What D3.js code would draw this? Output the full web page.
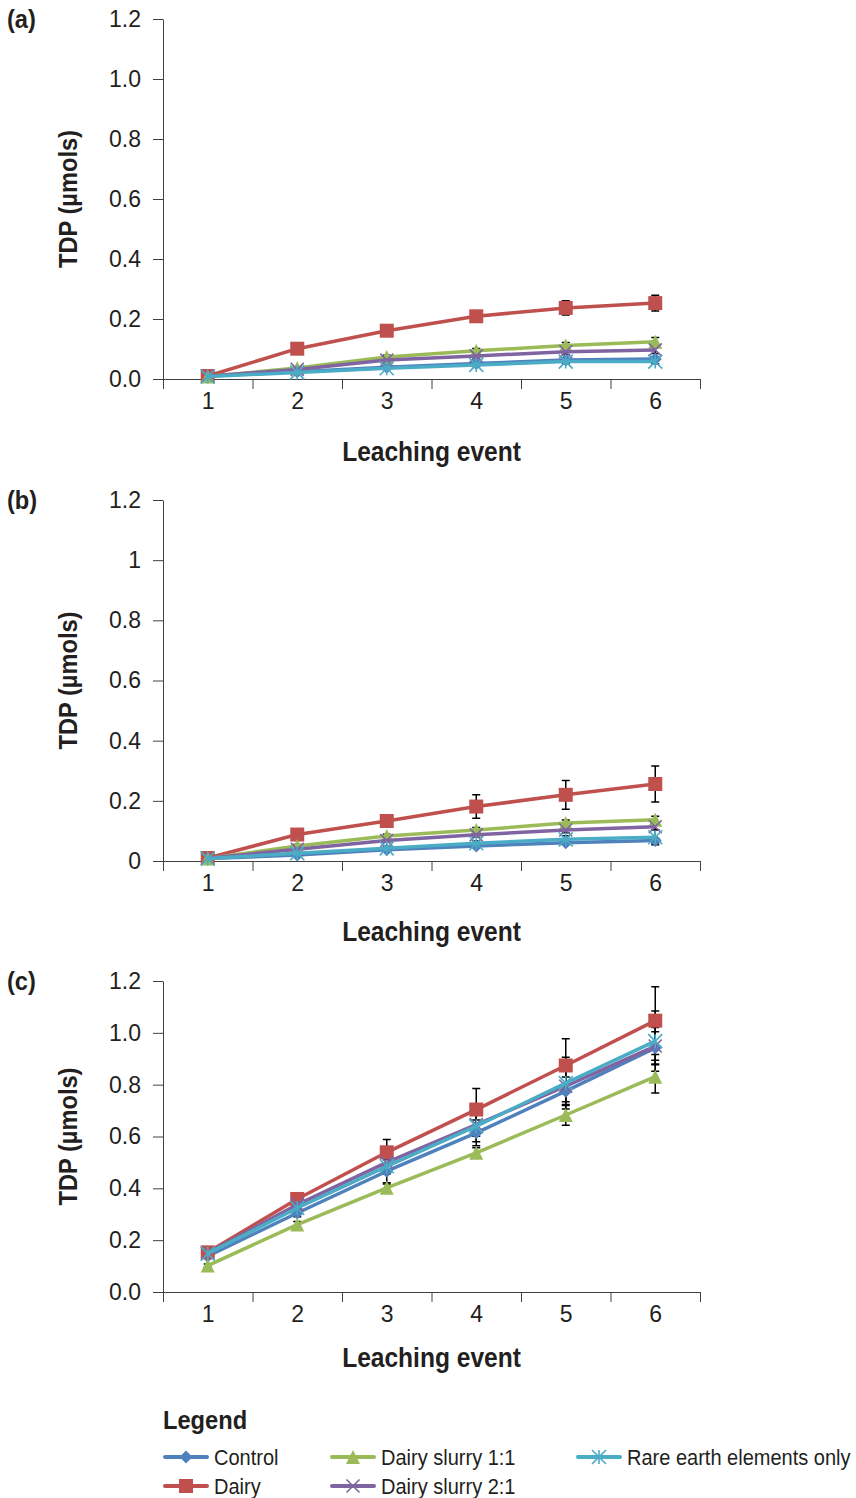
<!DOCTYPE html>
<html>
<head>
<meta charset="utf-8">
<script src="https://cdn.jsdelivr.net/npm/d3@7"></script>
<style>
  body { margin: 0; background: #fff; }
  svg { display: block; }
  .tick text { font-family: "Liberation Sans", Arial, sans-serif; font-size: 23px; fill: #231f20; }
  .axis path, .axis line { stroke: #404040; stroke-width: 1; }
  .narrow { font-family: "Liberation Sans", Arial, sans-serif; fill: #231f20; }
</style>
</head>
<body>
<div id="chart"></div>
<script>
var events = [1, 2, 3, 4, 5, 6];
var seriesNames = ['Control', 'Dairy', 'Dairy slurry 1:1', 'Dairy slurry 2:1', 'Rare earth elements only'];
var seriesColors = ['#4f81bd', '#c0504d', '#9bbb59', '#8064a2', '#4bacc6'];
var seriesMarkers = ['diamond', 'square', 'triangle', 'cross', 'star'];
var yTicks = [0, 0.2, 0.4, 0.6, 0.8, 1.0, 1.2];

// panel (a)
var aControl  = [0.010, 0.024, 0.039, 0.052, 0.063, 0.067];
var aDairy    = [0.010, 0.101, 0.161, 0.209, 0.237, 0.253];
var aSlurry11 = [0.008, 0.037, 0.073, 0.094, 0.112, 0.124];
var aSlurry21 = [0.009, 0.032, 0.063, 0.077, 0.091, 0.097];
var aRee      = [0.008, 0.022, 0.036, 0.047, 0.058, 0.058];
var aControlErr  = [0.002, 0.003, 0.004, 0.005, 0.006, 0.007];
var aDairyErr    = [0.002, 0.006, 0.008, 0.012, 0.024, 0.026];
var aSlurry11Err = [0.002, 0.004, 0.006, 0.008, 0.010, 0.014];
var aSlurry21Err = [0.002, 0.004, 0.005, 0.007, 0.009, 0.012];
var aReeErr      = [0.002, 0.003, 0.004, 0.005, 0.006, 0.007];

// panel (b)
var bControl  = [0.008, 0.020, 0.037, 0.050, 0.061, 0.068];
var bDairy    = [0.010, 0.088, 0.133, 0.181, 0.220, 0.256];
var bSlurry11 = [0.008, 0.050, 0.083, 0.103, 0.126, 0.137];
var bSlurry21 = [0.009, 0.039, 0.068, 0.087, 0.103, 0.114];
var bRee      = [0.008, 0.026, 0.042, 0.059, 0.072, 0.079];
var bControlErr  = [0.002, 0.003, 0.004, 0.005, 0.006, 0.008];
var bDairyErr    = [0.003, 0.010, 0.015, 0.039, 0.048, 0.060];
var bSlurry11Err = [0.002, 0.005, 0.006, 0.008, 0.010, 0.012];
var bSlurry21Err = [0.002, 0.004, 0.005, 0.007, 0.009, 0.010];
var bReeErr      = [0.002, 0.004, 0.006, 0.008, 0.012, 0.025];

// panel (c)
var cControl  = [0.138, 0.305, 0.466, 0.614, 0.775, 0.942];
var cDairy    = [0.153, 0.359, 0.539, 0.704, 0.874, 1.047];
var cSlurry11 = [0.102, 0.260, 0.402, 0.537, 0.683, 0.831];
var cSlurry21 = [0.150, 0.337, 0.500, 0.646, 0.794, 0.949];
var cRee      = [0.148, 0.324, 0.485, 0.640, 0.806, 0.968];
var cControlErr  = [0.008, 0.015, 0.044, 0.050, 0.055, 0.062];
var cDairyErr    = [0.010, 0.020, 0.049, 0.081, 0.103, 0.131];
var cSlurry11Err = [0.006, 0.012, 0.015, 0.020, 0.040, 0.063];
var cSlurry21Err = [0.008, 0.015, 0.030, 0.045, 0.060, 0.072];
var cReeErr      = [0.008, 0.020, 0.030, 0.060, 0.100, 0.116];

var panels = [
  { label: '(a)', top: 19, bottom: 379, fmt: d3.format('.1f'), titleY: 461,
    values: [aControl, aDairy, aSlurry11, aSlurry21, aRee],
    errors: [aControlErr, aDairyErr, aSlurry11Err, aSlurry21Err, aReeErr] },
  { label: '(b)', top: 500, bottom: 861, fmt: function(d) { return String(+d.toFixed(1)); }, titleY: 941,
    values: [bControl, bDairy, bSlurry11, bSlurry21, bRee],
    errors: [bControlErr, bDairyErr, bSlurry11Err, bSlurry21Err, bReeErr] },
  { label: '(c)', top: 981, bottom: 1292, fmt: d3.format('.1f'), titleY: 1367,
    values: [cControl, cDairy, cSlurry11, cSlurry21, cRee],
    errors: [cControlErr, cDairyErr, cSlurry11Err, cSlurry21Err, cReeErr] }
];

var width = 856, height = 1498,
    left = 163, right = 700,
    squeeze = 0.91;   // narrow look for the bold titles

var svg = d3.select('#chart')
  .append('svg')
  .attr('width', width)
  .attr('height', height);

// text drawn through a horizontal squeeze, like a condensed face
function narrowText(parent, x, y, size, weight, str, anchor, rotate) {
  return parent.append('text')
    .attr('class', 'narrow')
    .attr('transform', 'translate(' + x + ',' + y + ')' + (rotate ? ' rotate(' + rotate + ')' : '') + ' scale(' + squeeze + ',1)')
    .attr('text-anchor', anchor || 'start')
    .attr('font-size', size + 'px')
    .attr('font-weight', weight)
    .text(str);
}

function markerPath(type, s) {
  var h = s / 2;
  if (type === 'diamond') return 'M0,' + (-h) + 'L' + h + ',0L0,' + h + 'L' + (-h) + ',0Z';
  if (type === 'square') return 'M' + (-h) + ',' + (-h) + 'H' + h + 'V' + h + 'H' + (-h) + 'Z';
  if (type === 'triangle') return 'M0,' + (-h) + 'L' + h + ',' + h + 'L' + (-h) + ',' + h + 'Z';
  if (type === 'cross') return 'M' + (-h) + ',' + (-h) + 'L' + h + ',' + h + 'M' + h + ',' + (-h) + 'L' + (-h) + ',' + h;
  // star (asterisk)
  return 'M' + (-h) + ',' + (-h) + 'L' + h + ',' + h + 'M' + h + ',' + (-h) + 'L' + (-h) + ',' + h +
    'M0,' + (-h) + 'V' + h;
}
var markerSize = { diamond: 13, square: 14, triangle: 14, cross: 13, star: 14 };

function drawMarker(sel, type, color) {
  var filled = type === 'diamond' || type === 'square' || type === 'triangle';
  sel.attr('d', markerPath(type, markerSize[type]))
    .attr('fill', filled ? color : 'none')
    .attr('stroke', color)
    .attr('stroke-width', filled ? 0 : 1.6);
}

panels.forEach(function(p) {
  var g = svg.append('g');

  var x = d3.scaleLinear()
    .domain([0.5, 6.5])
    .range([left, right]);

  var y = d3.scaleLinear()
    .domain([0, 1.2])
    .range([p.bottom, p.top]);

  // y axis
  g.append('g')
    .attr('class', 'axis')
    .attr('transform', 'translate(' + left + ',0)')
    .call(d3.axisLeft(y).tickValues(yTicks).tickFormat(p.fmt).tickSize(10).tickSizeOuter(0).tickPadding(12));

  // x axis: tick marks between categories, labels at centres
  g.append('g')
    .attr('class', 'axis')
    .attr('transform', 'translate(0,' + p.bottom + ')')
    .call(d3.axisBottom(x).tickValues([0.5, 1.5, 2.5, 3.5, 4.5, 5.5, 6.5]).tickFormat('').tickSize(10).tickSizeOuter(0));

  g.append('g')
    .attr('class', 'axis')
    .attr('transform', 'translate(0,' + p.bottom + ')')
    .call(d3.axisBottom(x).tickValues(events).tickFormat(d3.format('d')).tickSize(0).tickPadding(14))
    .call(function(a) { a.select('.domain').remove(); });

  // titles
  narrowText(g, (left + right) / 2, p.titleY, 27, 'bold', 'Leaching event', 'middle');
  narrowText(g, 77, (p.top + p.bottom) / 2, 26, 'bold', 'TDP (µmols)', 'middle', -90);
  narrowText(g, 7, p.top + 9, 26, 'bold', p.label);

  // error bars
  p.values.forEach(function(vals, s) {
    var errs = p.errors[s];
    var eb = g.append('g').attr('stroke', '#000').attr('stroke-width', 1.5).attr('fill', 'none');
    eb.selectAll('path')
      .data(vals)
      .enter()
      .append('path')
      .attr('d', function(d, i) {
        var cx = x(events[i]), y0 = y(d - errs[i]), y1 = y(d + errs[i]);
        return 'M' + cx + ',' + y0 + 'V' + y1 +
          'M' + (cx - 4) + ',' + y0 + 'H' + (cx + 4) +
          'M' + (cx - 4) + ',' + y1 + 'H' + (cx + 4);
      });
  });

  // series
  p.values.forEach(function(vals, s) {
    var color = seriesColors[s];
    var line = d3.line()
      .x(function(d, i) { return x(events[i]); })
      .y(function(d) { return y(d); });

    g.append('path')
      .datum(vals)
      .attr('d', line)
      .attr('fill', 'none')
      .attr('stroke', color)
      .attr('stroke-width', 3.5)
      .attr('stroke-linejoin', 'round');

    g.selectAll('.m' + s)
      .data(vals)
      .enter()
      .append('path')
      .attr('class', 'm' + s)
      .attr('transform', function(d, i) { return 'translate(' + x(events[i]) + ',' + y(d) + ')'; })
      .call(drawMarker, seriesMarkers[s], color);
  });
});

// legend
narrowText(svg, 163, 1429, 26, 'bold', 'Legend');

var legendPos = [
  { x: 165, y: 1457 },
  { x: 165, y: 1486 },
  { x: 332, y: 1457 },
  { x: 332, y: 1486 },
  { x: 578, y: 1457 }
];

seriesNames.forEach(function(name, s) {
  var pos = legendPos[s];
  var lg = svg.append('g').attr('transform', 'translate(' + pos.x + ',' + pos.y + ')');
  lg.append('line')
    .attr('x1', 0).attr('x2', 42)
    .attr('stroke', seriesColors[s])
    .attr('stroke-width', 4)
    .attr('stroke-linecap', 'round');
  lg.append('path')
    .attr('transform', 'translate(21,0)')
    .call(drawMarker, seriesMarkers[s], seriesColors[s]);
  narrowText(lg, 49, 8, 22, 'normal', name);
});
</script>
</body>
</html>
